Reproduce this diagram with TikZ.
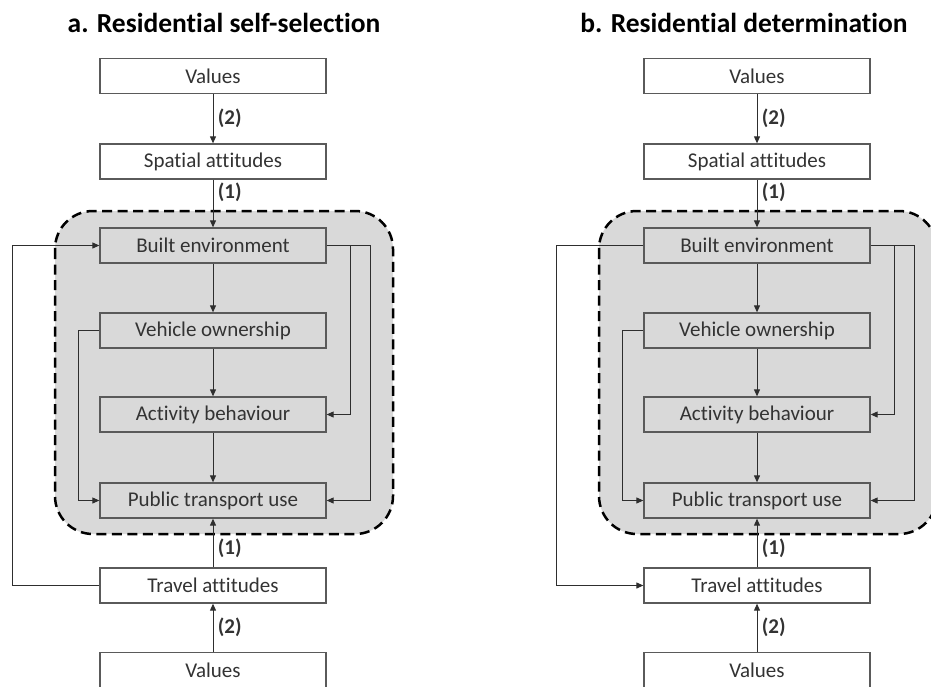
\documentclass[tikz,border=0pt]{standalone}
\usepackage{fontspec}
\setmainfont{Carlito}[Ligatures={NoCommon}]
\usetikzlibrary{arrows.meta}
\definecolor{regiongray}{HTML}{D9D9D9}
\definecolor{boxline}{HTML}{5A5A5A}
\definecolor{connc}{HTML}{2E2E2E}
\definecolor{txt}{HTML}{333333}
\begin{document}
\begin{tikzpicture}[x=1pt,y=-1pt,
 box/.style={draw=boxline, line width=1.3pt, minimum width=226pt, minimum height=35pt, inner sep=0pt, font=\fontsize{21}{24}\selectfont, text=txt},
 outerbox/.style={box, fill=white},
 innerbox/.style={box, fill=regiongray},
 conn/.style={draw=connc, line width=1pt, -{Triangle[length=7pt,width=6pt]}},
 lab/.style={font=\bfseries\fontsize{21}{24}\selectfont, text=txt},
 ttl/.style={font=\bfseries\fontsize{27.5}{32}\selectfont, text=black},
 region/.style={fill=regiongray, draw=black, line width=2.5pt, dash pattern=on 10pt off 5.5pt, rounded corners=38pt}]
\useasboundingbox (0,0) rectangle (931,686);
\clip (0,0) rectangle (931,686);
% ---------- panel a ----------
\node[ttl] (ta) at (224,23) {a. Residential self-selection};
\path[region] (55,211) rectangle (393,534);
\node[outerbox] (va1) at (213,76) {Values};
\node[outerbox] (sa1) at (213,161.5) {Spatial attitudes};
\node[innerbox] (be1) at (213,245.5) {Built environment};
\node[innerbox] (vo1) at (213,330.5) {Vehicle ownership};
\node[innerbox] (ab1) at (213,414.5) {Activity behaviour};
\node[innerbox] (pt1) at (213,500.5) {Public transport use};
\node[outerbox] (tr1) at (213,585.5) {Travel attitudes};
\node[outerbox] (vb1) at (213,670) {Values};
\coordinate (xa1) at (12,0);
\coordinate (xb1) at (78,0);
\coordinate (xc1) at (350,0);
\coordinate (xd1) at (370,0);
\draw[conn] (va1) -- node[lab, right=1pt] (l1a) {(2)} (sa1);
\draw[conn] (sa1) -- node[lab, right=1pt, pos=0.27] (l1b) {(1)} (be1);
\draw[conn] (be1) -- (vo1);
\draw[conn] (vo1) -- (ab1);
\draw[conn] (ab1) -- (pt1);
\draw[conn] (tr1) -- node[lab, right=1pt, pos=0.4] (l1c) {(1)} (pt1);
\draw[conn] (vb1) -- node[lab, right=1pt] (l1d) {(2)} (tr1);
\draw[conn] (tr1.west) -- (tr1.west -| xa1) -- (be1.west -| xa1) -- (be1.west);
\draw[conn] (vo1.west) -- (vo1.west -| xb1) |- (pt1.west);
\draw[conn] (be1.east) -- (be1.east -| xc1) |- (ab1.east);
\draw[conn] (be1.east) -- (be1.east -| xd1) |- (pt1.east);
% ---------- panel b ----------
\node[ttl] (tb) at (744,23) {b. Residential determination};
\path[region] (599,211) rectangle (937,534);
\node[outerbox] (va2) at (757,76) {Values};
\node[outerbox] (sa2) at (757,161.5) {Spatial attitudes};
\node[innerbox] (be2) at (757,245.5) {Built environment};
\node[innerbox] (vo2) at (757,330.5) {Vehicle ownership};
\node[innerbox] (ab2) at (757,414.5) {Activity behaviour};
\node[innerbox] (pt2) at (757,500.5) {Public transport use};
\node[outerbox] (tr2) at (757,585.5) {Travel attitudes};
\node[outerbox] (vb2) at (757,670) {Values};
\coordinate (xa2) at (556,0);
\coordinate (xb2) at (622,0);
\coordinate (xc2) at (894,0);
\coordinate (xd2) at (914,0);
\draw[conn] (va2) -- node[lab, right=1pt] (l2a) {(2)} (sa2);
\draw[conn] (sa2) -- node[lab, right=1pt, pos=0.27] (l2b) {(1)} (be2);
\draw[conn] (be2) -- (vo2);
\draw[conn] (vo2) -- (ab2);
\draw[conn] (ab2) -- (pt2);
\draw[conn] (tr2) -- node[lab, right=1pt, pos=0.4] (l2c) {(1)} (pt2);
\draw[conn] (vb2) -- node[lab, right=1pt] (l2d) {(2)} (tr2);
\draw[conn] (be2.west) -- (be2.west -| xa2) -- (tr2.west -| xa2) -- (tr2.west);
\draw[conn] (vo2.west) -- (vo2.west -| xb2) |- (pt2.west);
\draw[conn] (be2.east) -- (be2.east -| xc2) |- (ab2.east);
\draw[conn] (be2.east) -- (be2.east -| xd2) |- (pt2.east);
\end{tikzpicture}
\end{document}
